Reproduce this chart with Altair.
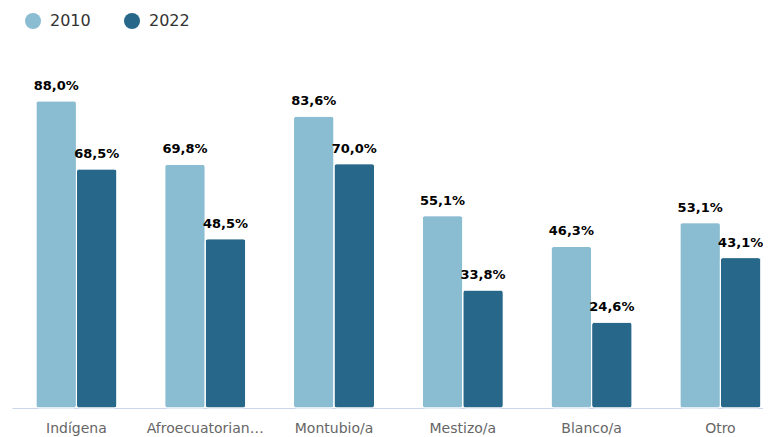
import altair as alt
import pandas as pd

categories = ["Indígena", "Afroecuatoriano/a", "Montubio/a", "Mestizo/a", "Blanco/a", "Otro"]
years = ["2010", "2022"]
values_2010 = [88.0, 69.8, 83.6, 55.1, 46.3, 53.1]
values_2022 = [68.5, 48.5, 70.0, 33.8, 24.6, 43.1]
colors = ["#8abcd2", "#27678a"]

rows = []
for cat, v1, v2 in zip(categories, values_2010, values_2022):
    for yr, v in ((years[0], v1), (years[1], v2)):
        rows.append({"cat": cat, "year": yr, "value": v,
                     "label": f"{v:.1f}".replace(".", ",") + "%"})
df = pd.DataFrame(rows)

FONT = "DejaVu Sans"

x_enc = alt.X("cat:N", sort=categories, title=None,
              scale=alt.Scale(paddingInner=0.371, paddingOuter=0.101, align=0.92),
              axis=alt.Axis(labelAngle=0, labelFontSize=14, labelColor="#666666",
                            labelFont=FONT, labelLimit=120, labelPadding=13,
                            domainColor="#ccd6eb", domainWidth=1, ticks=False,
                            grid=False))
y_enc = alt.Y("value:Q", scale=alt.Scale(domain=[0, 100], nice=False), axis=None)
xoff = alt.XOffset("year:N", sort=years, scale=alt.Scale(paddingInner=0, paddingOuter=0))

bars = alt.Chart(df).mark_bar(
    cornerRadius=3, stroke="white", strokeWidth=1
).encode(
    x=x_enc, y=y_enc, xOffset=xoff,
    color=alt.Color("year:N", sort=years,
                    scale=alt.Scale(domain=years, range=colors),
                    legend=alt.Legend(title=None, orient="none", direction="horizontal",
                                      legendX=13, legendY=-46, padding=0,
                                      symbolType="circle", symbolSize=256,
                                      symbolStrokeWidth=0, labelFontSize=16,
                                      labelColor="#333333", labelFont=FONT,
                                      labelOffset=9, columnPadding=33)),
)

text = alt.Chart(df).mark_text(
    baseline="bottom", dy=-8, fontSize=13, fontWeight="bold", color="#000000", font=FONT
).encode(
    x=alt.X("cat:N", sort=categories), y="value:Q", xOffset=xoff, text="label:N"
)

chart = alt.layer(bars, text).properties(
    width=751, height=349,
    autosize=alt.AutoSizeParams(type="none"),
    padding={"left": 4, "top": 51, "right": 0, "bottom": 28},
).configure_view(stroke=None)

chart.save("out.html", embed_options={"renderer": "svg", "actions": False})
